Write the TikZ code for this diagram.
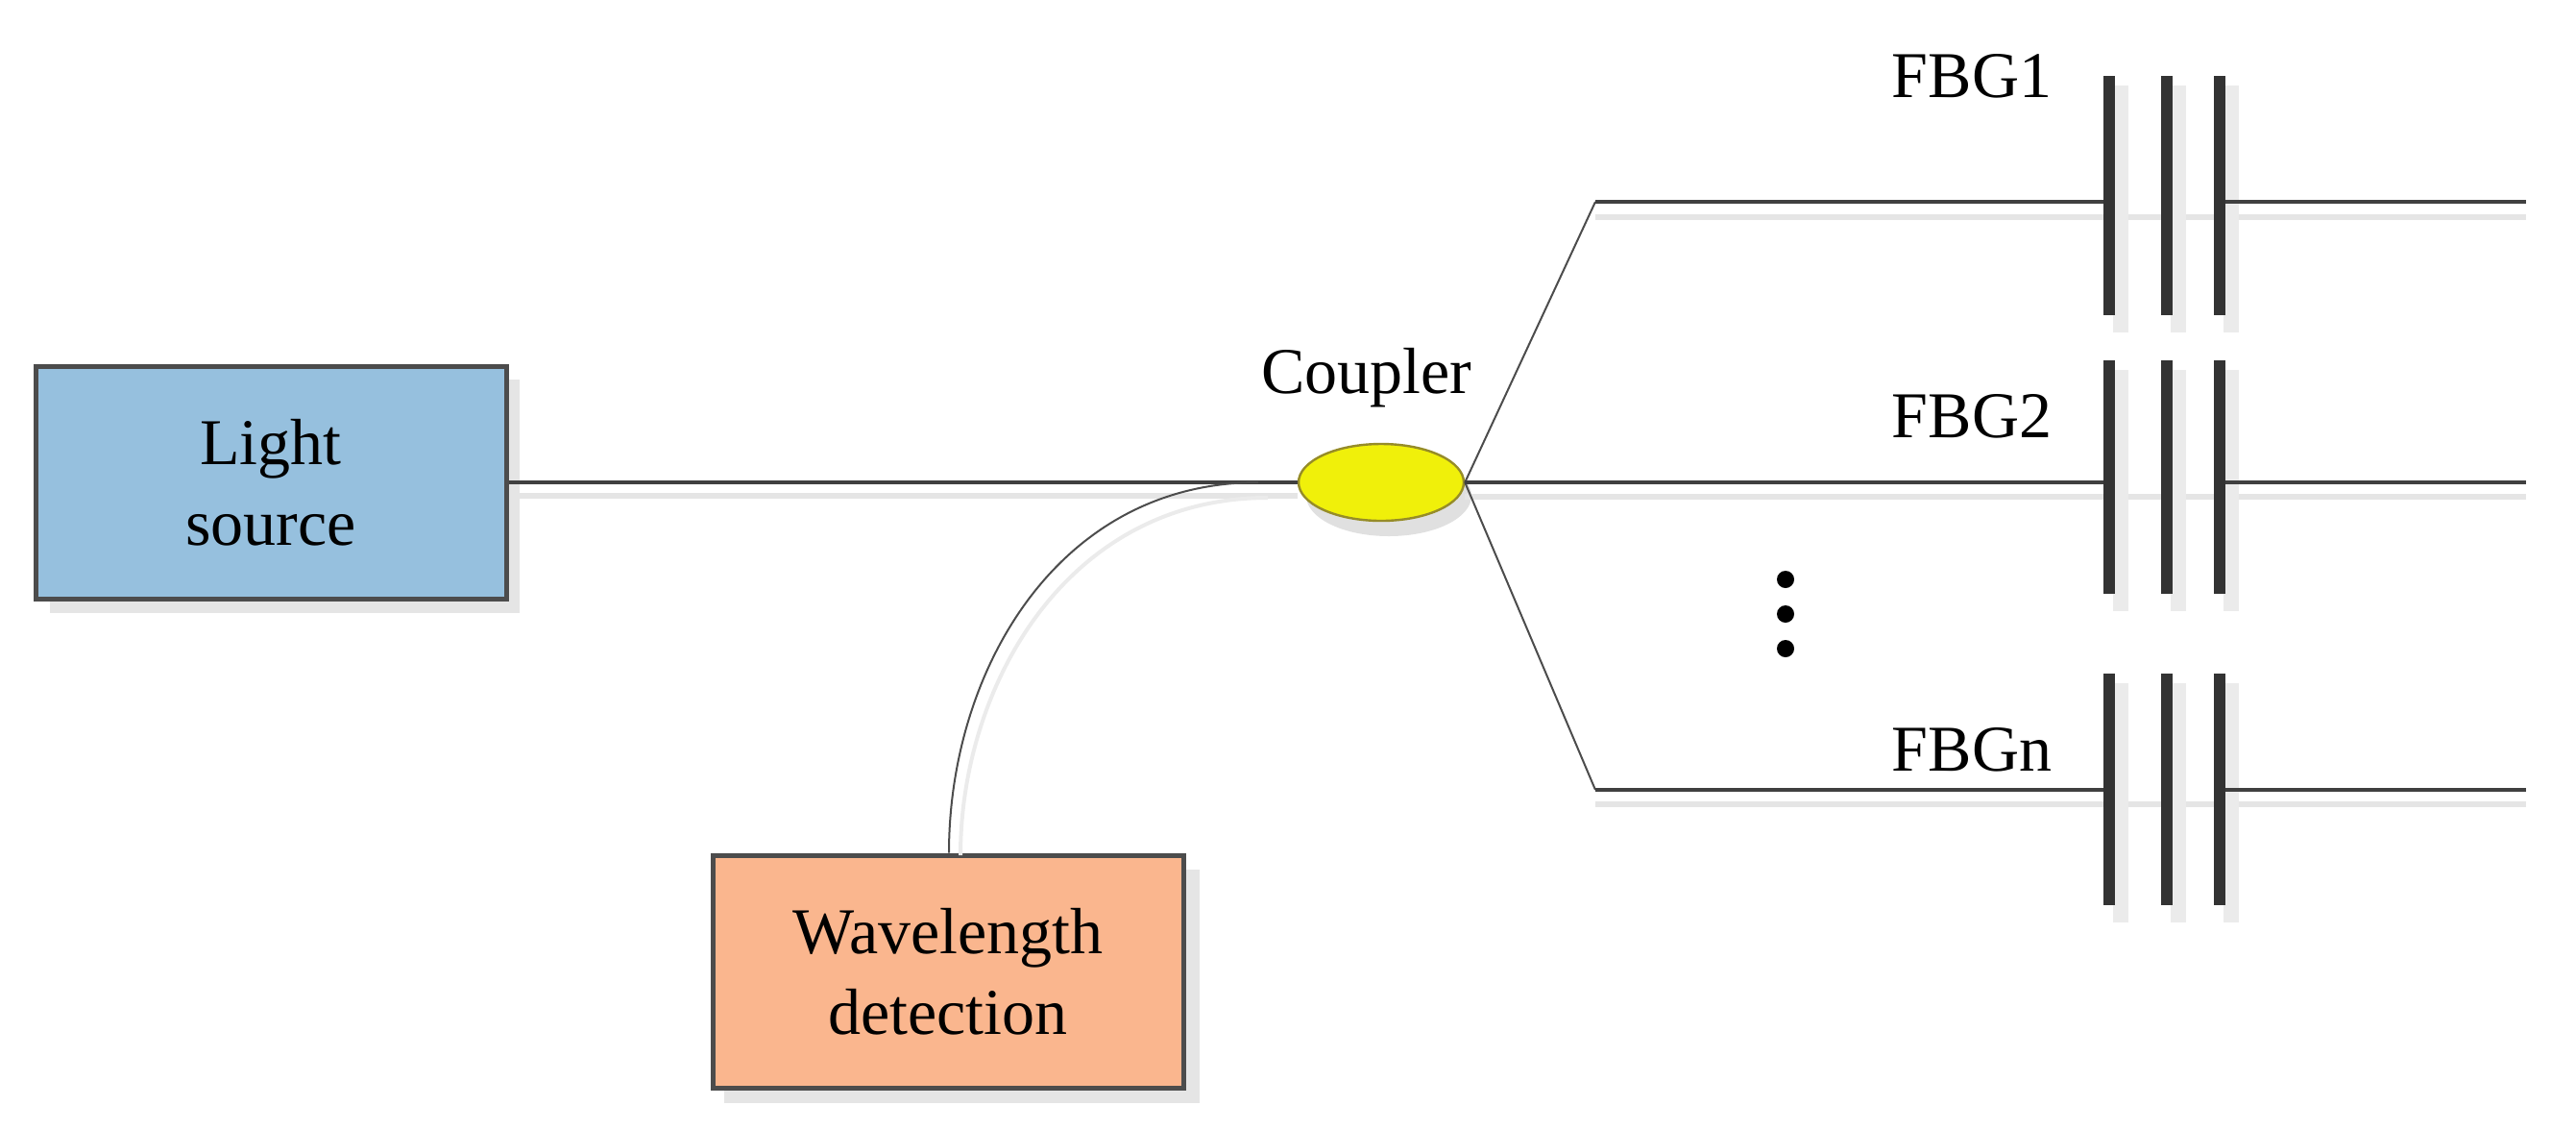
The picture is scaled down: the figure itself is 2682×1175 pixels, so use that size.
\documentclass[tikz,border=0pt]{standalone}
\usepackage{fontspec}
\setmainfont{Liberation Serif}
\usetikzlibrary{shapes.geometric}
\begin{document}
\begin{tikzpicture}[x=0.5pt,y=-0.5pt,
  txt/.style={font=\fontsize{34}{40}\selectfont},
  box/.style={draw=black!70,line width=2.5pt,minimum width=245pt,minimum height=121pt,inner sep=0pt,align=center,font=\fontsize{34}{42}\selectfont},
  fib/.style={draw=black!75,line width=1.6pt},
  sh/.style={draw=black!10,line width=3pt},
  bar/.style={fill=black!80,draw=none},
  barsh/.style={fill=black!8,draw=none}]
\useasboundingbox (0,0) rectangle (2682,1175);
% shadows
\fill[black!10] (52,395) rectangle (541,638);
\fill[black!10] (754,905) rectangle (1249,1148);
\fill[black!12] (1446,516) ellipse (86pt*0.5 and 42pt*0.5);
\draw[sh] (527,516) -- (1351,516);
\draw[sh] (1661,226) -- (2630,226);
\draw[sh] (1525,517) -- (2630,517);
\draw[sh] (1661,837) -- (2630,837);
\foreach \y/\a/\b in {0/79/328,1/375/618,2/701/942}{
  \foreach \x in {2196,2256,2311}{
    \fill[black!8] (\x+4,\a+10) rectangle (\x+20,\b+18);
  }}
% main parts
\node[box,fill=cyan!20!blue!25!gray!45,fill={rgb,255:red,150;green,192;blue,222}] (ls) at (282,502) {Light\\source};
\node[box,fill={rgb,255:red,250;green,182;blue,142}] (wd) at (987,1011) {Wavelength\\detection};
\node[ellipse,draw={rgb,255:red,150;green,140;blue,40},line width=1.2pt,fill={rgb,255:red,240;green,240;blue,10},minimum width=86pt,minimum height=40pt,inner sep=0pt] (cp) at (1438,502) {};
\node[txt] (cpl) at (1423,393) {Coupler};
\coordinate (j) at (1310,502);
\coordinate (u) at (1661,210);
\coordinate (d) at (1661,822);
\draw[fib] (ls.east) -- (cp.west);
\draw[black!70,line width=1pt] (wd.north -| 988,0) .. controls (988,700) and (1100,502) .. (j);
\draw[black!8,line width=2pt] (1000,890) .. controls (1000,715) and (1110,518) .. (1320,518);
\draw[black!70,line width=1pt] (cp.east) -- (u);
\draw[black!70,line width=1pt] (cp.east) -- (d);
% FBG lines and bars
\foreach \n/\y/\a/\b/\lab in {1/210/79/328/FBG1,2/502/375/618/FBG2,3/822/701/942/FBGn}{
  \coordinate (s\n) at (1661,\y);
  \coordinate (e\n) at (2630,\y);
  \node[bar,minimum width=6pt,minimum height={(\b-\a)*0.5pt},inner sep=0pt] (b\n a) at (2196,{(\a+\b)/2}) {};
  \node[bar,minimum width=6pt,minimum height={(\b-\a)*0.5pt},inner sep=0pt] (b\n b) at (2256,{(\a+\b)/2}) {};
  \node[bar,minimum width=6pt,minimum height={(\b-\a)*0.5pt},inner sep=0pt] (b\n c) at (2311,{(\a+\b)/2}) {};
  \draw[fib] (s\n) -- (s\n -| b\n a.west);
  \draw[fib] (s\n -| b\n c.east) -- (e\n);
  \node[txt,anchor=east] (l\n) at (2150,{\y-130+(\n==1?0:0)}) {};
}
\draw[fib] (cp.east) -- (s2);
\node[txt] (f1) at (2053,79) {FBG1};
\node[txt] (f2) at (2053,433) {FBG2};
\node[txt] (fn) at (2053,780) {FBGn};
\foreach \k/\yy in {a/603,b/639,c/675}{\fill (1859,\yy) circle (4.5pt);}
\end{tikzpicture}
\end{document}
